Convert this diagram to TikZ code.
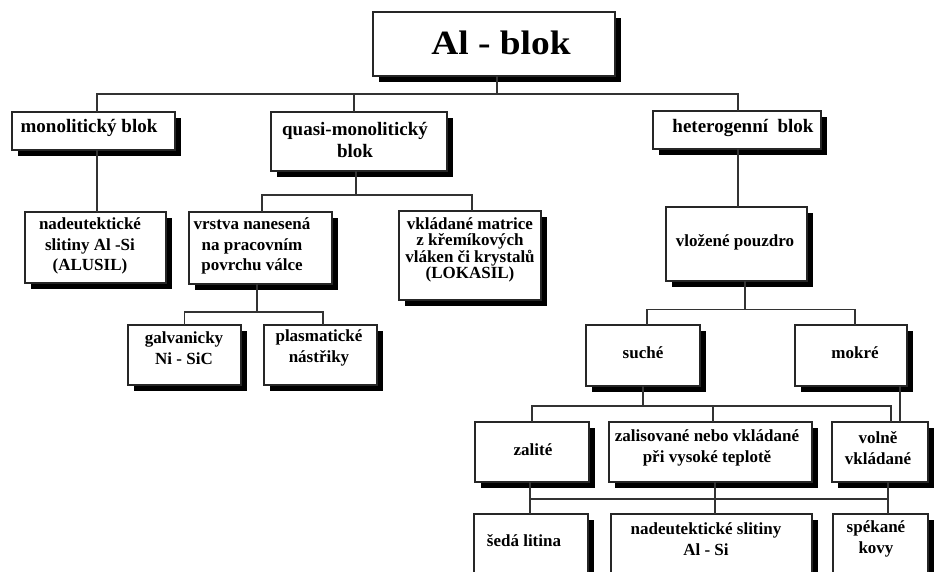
\documentclass[tikz,border=0pt]{standalone}
\usepackage{fontspec}
\setmainfont{Liberation Serif}
\newfontfamily\titlefont[FakeStretch=1.1]{Liberation Serif}
\usetikzlibrary{shadows,calc}
\begin{document}
\begin{tikzpicture}[x=1pt,y=-1pt,
  box/.style={draw=black!85, line width=1.4pt, fill=white, inner sep=0pt, outer sep=0pt,
    drop shadow={shadow xshift=6pt,shadow yshift=-6pt,fill=black,opacity=1}},
  txt/.style={align=center, inner sep=0pt, font=\fontsize{17}{20.5}\selectfont\bfseries},
  bigtxt/.style={align=center, inner sep=0pt, font=\fontsize{19}{22}\selectfont\bfseries},
  titletxt/.style={inner sep=0pt, font=\titlefont\fontsize{34}{40}\selectfont\bfseries},
  conn/.style={draw=black!80, line width=1.2pt}]
\fill[white] (0,0) rectangle (935,572);
\path[use as bounding box] (0,0) rectangle (935,572);
\clip (0,0) rectangle (935,572);

% boxes
\node[box, minimum width=242pt, minimum height=64pt] (al) at (494,44) {};
\node[box, minimum width=163pt, minimum height=38pt] (mono) at (93.5,131) {};
\node[box, minimum width=176pt, minimum height=59pt] (quasi) at (359,141.5) {};
\node[box, minimum width=168pt, minimum height=38pt] (het) at (737,130) {};
\node[box, minimum width=141pt, minimum height=71pt] (nad1) at (95.5,247.5) {};
\node[box, minimum width=143pt, minimum height=72pt] (vrs) at (260.5,248) {};
\node[box, minimum width=142pt, minimum height=89pt] (vkl) at (470,255.5) {};
\node[box, minimum width=141pt, minimum height=74pt] (vlo) at (736.5,244) {};
\node[box, minimum width=113pt, minimum height=60pt] (gal) at (184.5,355) {};
\node[box, minimum width=113pt, minimum height=60pt] (pla) at (320.5,355) {};
\node[box, minimum width=114pt, minimum height=61pt] (such) at (643,355.5) {};
\node[box, minimum width=112pt, minimum height=61pt] (mok) at (851,355.5) {};
\node[box, minimum width=114pt, minimum height=60pt] (zal) at (532,452) {};
\node[box, minimum width=203pt, minimum height=60pt] (zls) at (710.5,452) {};
\node[box, minimum width=96pt, minimum height=60pt] (vol) at (880,452) {};
\node[box, minimum width=114pt, minimum height=86pt] (sed) at (531,557) {};
\node[box, minimum width=201pt, minimum height=86pt] (nad2) at (711.5,557) {};
\node[box, minimum width=95pt, minimum height=86pt] (spe) at (880.5,557) {};

% bus levels and attachment points
\coordinate (bus0) at (0,94);
\coordinate (bus1) at (0,195);
\coordinate (bus2) at (0,312);
\coordinate (bus3) at (0,309.5);
\coordinate (bus4) at (0,406);
\coordinate (bus5) at (0,499);
\coordinate (pal) at ([xshift=3pt]al.south);
\coordinate (pmono) at ([xshift=3.5pt]mono.north);
\coordinate (pmonob) at ([xshift=3.5pt]mono.south);
\coordinate (pquasi) at ([xshift=-5pt]quasi.north);
\coordinate (pquasib) at ([xshift=-3pt]quasi.south);
\coordinate (phet) at ([xshift=1pt]het.north);
\coordinate (phetb) at ([xshift=1pt]het.south);
\coordinate (pvrs) at ([xshift=1.5pt]vrs.north);
\coordinate (pvrsb) at ([xshift=-3.5pt]vrs.south);
\coordinate (pvkl) at ([xshift=2pt]vkl.north);
\coordinate (ppla) at ([xshift=2.5pt]pla.north);
\coordinate (pvlob) at ([xshift=8.5pt]vlo.south);
\coordinate (psuch) at ([xshift=4pt]such.north);
\coordinate (pmok) at ([xshift=4pt]mok.north);
\coordinate (pmokb) at ([xshift=-7pt]mok.south east);
\coordinate (pzls) at ([xshift=2.5pt]zls.north);
\coordinate (pzlsb) at ([xshift=4.5pt]zls.south);
\coordinate (pvol) at ([xshift=11pt]vol.north);
\coordinate (pvolb) at ([xshift=8pt]vol.south);
\coordinate (pzalb) at ([xshift=-2pt]zal.south);

% connectors
\draw[conn] (pmono) -- (pmono |- bus0) -| (phet);
\draw[conn] (pal) -- (pal |- bus0);
\draw[conn] (pquasi) -- (pquasi |- bus0);
\draw[conn] (pmonob) -- (pmonob |- nad1.north);
\draw[conn] (pquasib) -- (pquasib |- bus1);
\draw[conn] (pvrs) -- (pvrs |- bus1) -| (pvkl);
\draw[conn] (phetb) -- (phetb |- vlo.north);
\draw[conn] (pvrsb) -- (pvrsb |- bus2);
\draw[conn] (gal.north) -- (gal.north |- bus2) -| (ppla);
\draw[conn] (pvlob) -- (pvlob |- bus3);
\draw[conn] (psuch) -- (psuch |- bus3) -| (pmok);
\draw[conn] (such.south) -- (such.south |- bus4);
\draw[conn] (zal.north) -- (zal.north |- bus4) -| (pvol);
\draw[conn] (pzls) -- (pzls |- bus4);
\draw[conn] (pmokb) -- (pmokb |- vol.north);
\draw[conn] (pzalb) -- (pzalb |- sed.north);
\draw[conn] (pzlsb) -- (pzlsb |- nad2.north);
\draw[conn] (pvolb) -- (pvolb |- spe.north);
\draw[conn] (pzalb |- bus5) -- (pvolb |- bus5);

% texts
\node[titletxt] (tal) at (501,43) {Al - blok};
\node[bigtxt] (tmono) at (89,128) {monolitický blok};
\node[bigtxt] (tquasi) at (355,140) {quasi-monolitický\\blok};
\node[bigtxt] (thet) at (743,128) {heterogenní\ \ blok};
\node[txt] (tnad1) at (90,246) {nadeutektické\\slitiny Al -Si\\(ALUSIL)};
\node[txt] (tvrs) at (252,246) {vrstva nanesená\\na pracovním\\povrchu válce};
\node[txt, font=\fontsize{17}{16.5}\selectfont\bfseries] (tvkl) at (470,250) {vkládané matrice\\z křemíkových\\vláken či krystalů\\(LOKASIL)};
\node[txt] (tvlo) at (735,242) {vložené pouzdro};
\node[txt] (tgal) at (184,348) {galvanicky\\Ni - SiC};
\node[txt] (tpla) at (319,348) {plasmatické\\nástřiky};
\node[txt] (tsuch) at (643,353) {suché};
\node[txt] (tmok) at (855,353) {mokré};
\node[txt] (tzal) at (533,450) {zalité};
\node[txt] (tzls) at (707,448) {zalisované nebo vkládané\\při vysoké teplotě};
\node[txt] (tvol) at (878,448) {volně\\vkládané};
\node[txt] (tsed) at (524,541) {šedá litina};
\node[txt] (tnad2) at (706,539) {nadeutektické slitiny\\Al - Si};
\node[txt] (tspe) at (876,539) {spékané\\kovy};
\end{tikzpicture}
\end{document}
